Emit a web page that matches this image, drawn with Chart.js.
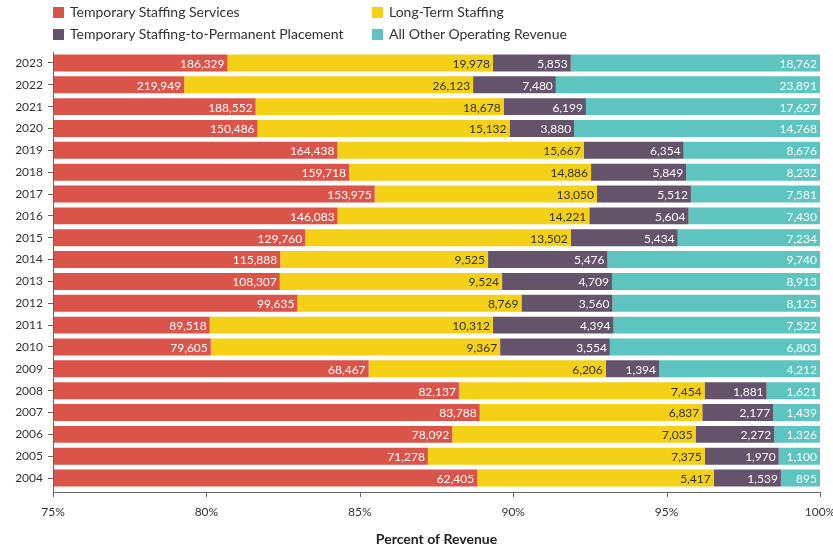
<!DOCTYPE html>
<html>
<head>
<meta charset="utf-8">
<script src="https://cdn.jsdelivr.net/npm/chart.js@4"></script>
<style>
  body { margin: 0; background: #fff; font-family: Lato, sans-serif; }
  #wrap { position: relative; width: 833px; height: 546px; }
  #chart { position: absolute; left: 0; top: 0; }
  .key { position: absolute; font-size: 14px; color: #333; line-height: 14px; white-space: nowrap; }
  .key span { position: absolute; left: -17px; top: 2px; width: 11px; height: 11px; }
</style>
</head>
<body>
<div id="wrap">
  <canvas id="chart" width="833" height="546"></canvas>
  <div id="legend"></div>
</div>
<script>
const years = ['2023', '2022', '2021', '2020', '2019', '2018', '2017', '2016', '2015', '2014',
  '2013', '2012', '2011', '2010', '2009', '2008', '2007', '2006', '2005', '2004'];

const tempStaffing = [186329, 219949, 188552, 150486, 164438, 159718, 153975, 146083, 129760, 115888,
  108307, 99635, 89518, 79605, 68467, 82137, 83788, 78092, 71278, 62405];
const longTerm = [19978, 26123, 18678, 15132, 15667, 14886, 13050, 14221, 13502, 9525,
  9524, 8769, 10312, 9367, 6206, 7454, 6837, 7035, 7375, 5417];
const tempToPerm = [5853, 7480, 6199, 3880, 6354, 5849, 5512, 5604, 5434, 5476,
  4709, 3560, 4394, 3554, 1394, 1881, 2177, 2272, 1970, 1539];
const otherRevenue = [18762, 23891, 17627, 14768, 8676, 8232, 7581, 7430, 7234, 9740,
  8913, 8125, 7522, 6803, 4212, 1621, 1439, 1326, 1100, 895];

const xTicks = [75, 80, 85, 90, 95, 100];

const series = [
  { label: 'Temporary Staffing Services', values: tempStaffing, color: '#da544a', text: '#fff' },
  { label: 'Long-Term Staffing', values: longTerm, color: '#f4d017', text: '#333' },
  { label: 'Temporary Staffing-to-Permanent Placement', values: tempToPerm, color: '#65536c', text: '#fff' },
  { label: 'All Other Operating Revenue', values: otherRevenue, color: '#5dc4bf', text: '#fff' }
];

const totals = years.map((_, i) => series.reduce((sum, s) => sum + s.values[i], 0));

// legend: two columns, two rows
const legendPos = [[70, 5], [389, 5], [70, 27], [389, 27]];
series.forEach((s, n) => {
  const el = document.createElement('div');
  el.className = 'key';
  el.style.left = legendPos[n][0] + 'px';
  el.style.top = legendPos[n][1] + 'px';
  el.innerHTML = '<span style="background:' + s.color + '"></span>' + s.label;
  document.getElementById('legend').appendChild(el);
});

const AXIS_COLOR = '#666';
const AXIS_GAP = 3;

const axisLines = {
  id: 'axisLines',
  afterDraw(chart) {
    const ctx = chart.ctx;
    const area = chart.chartArea;
    const y0 = area.bottom + AXIS_GAP;
    ctx.save();
    ctx.strokeStyle = AXIS_COLOR;
    ctx.lineWidth = 1;
    ctx.beginPath();
    ctx.moveTo(area.left + 0.5, area.top);
    ctx.lineTo(area.left + 0.5, y0 + 0.5);
    ctx.lineTo(area.right, y0 + 0.5);
    chart.scales.x.ticks.forEach(t => {
      const px = Math.round(chart.scales.x.getPixelForValue(t.value)) + 0.5;
      ctx.moveTo(px, y0);
      ctx.lineTo(px, y0 + 5);
    });
    ctx.stroke();
    ctx.restore();
  }
};

const valueLabels = {
  id: 'valueLabels',
  afterDatasetsDraw(chart) {
    const ctx = chart.ctx;
    ctx.save();
    ctx.font = '12px Lato';
    ctx.textAlign = 'right';
    ctx.textBaseline = 'middle';
    series.forEach((s, i) => {
      chart.getDatasetMeta(i).data.forEach((bar, j) => {
        ctx.fillStyle = s.text;
        ctx.fillText(s.values[j].toLocaleString('en-US'), bar.x - 3, bar.y + 1);
      });
    });
    ctx.restore();
  }
};

new Chart(document.getElementById('chart'), {
  type: 'bar',
  data: {
    labels: years,
    datasets: series.map(s => ({
      label: s.label,
      data: s.values.map((v, i) => v / totals[i] * 100),
      backgroundColor: s.color,
      borderWidth: 0,
      barPercentage: 0.778,
      categoryPercentage: 1
    }))
  },
  options: {
    indexAxis: 'y',
    responsive: false,
    animation: false,
    layout: { padding: { top: 52, right: 13, left: 0, bottom: 0 } },
    plugins: {
      legend: { display: false },
      tooltip: { enabled: false }
    },
    scales: {
      x: {
        stacked: true,
        min: 75,
        max: 100,
        afterBuildTicks(scale) {
          scale.ticks = xTicks.map(v => ({ value: v }));
        },
        afterFit(scale) {
          scale.height = 57;
          scale.paddingLeft = 0;
          scale.paddingRight = 0;
        },
        grid: { display: false, drawTicks: false },
        border: { display: false },
        ticks: {
          padding: 16,
          color: '#333',
          font: { family: 'Lato', size: 12 },
          callback: v => v + '%'
        },
        title: {
          display: true,
          text: 'Percent of Revenue',
          color: '#222',
          font: { family: 'Lato', size: 14, weight: 'bold', lineHeight: 1 },
          padding: 0
        }
      },
      y: {
        stacked: true,
        afterFit(scale) {
          scale.width = 53;
          scale.paddingTop = 0;
          scale.paddingBottom = 0;
        },
        grid: {
          offset: false,
          drawOnChartArea: false,
          tickLength: 5,
          color: AXIS_COLOR
        },
        border: { display: false },
        ticks: {
          padding: 5,
          color: '#333',
          font: { family: 'Lato', size: 12 }
        }
      }
    }
  },
  plugins: [axisLines, valueLabels]
});
</script>
</body>
</html>
